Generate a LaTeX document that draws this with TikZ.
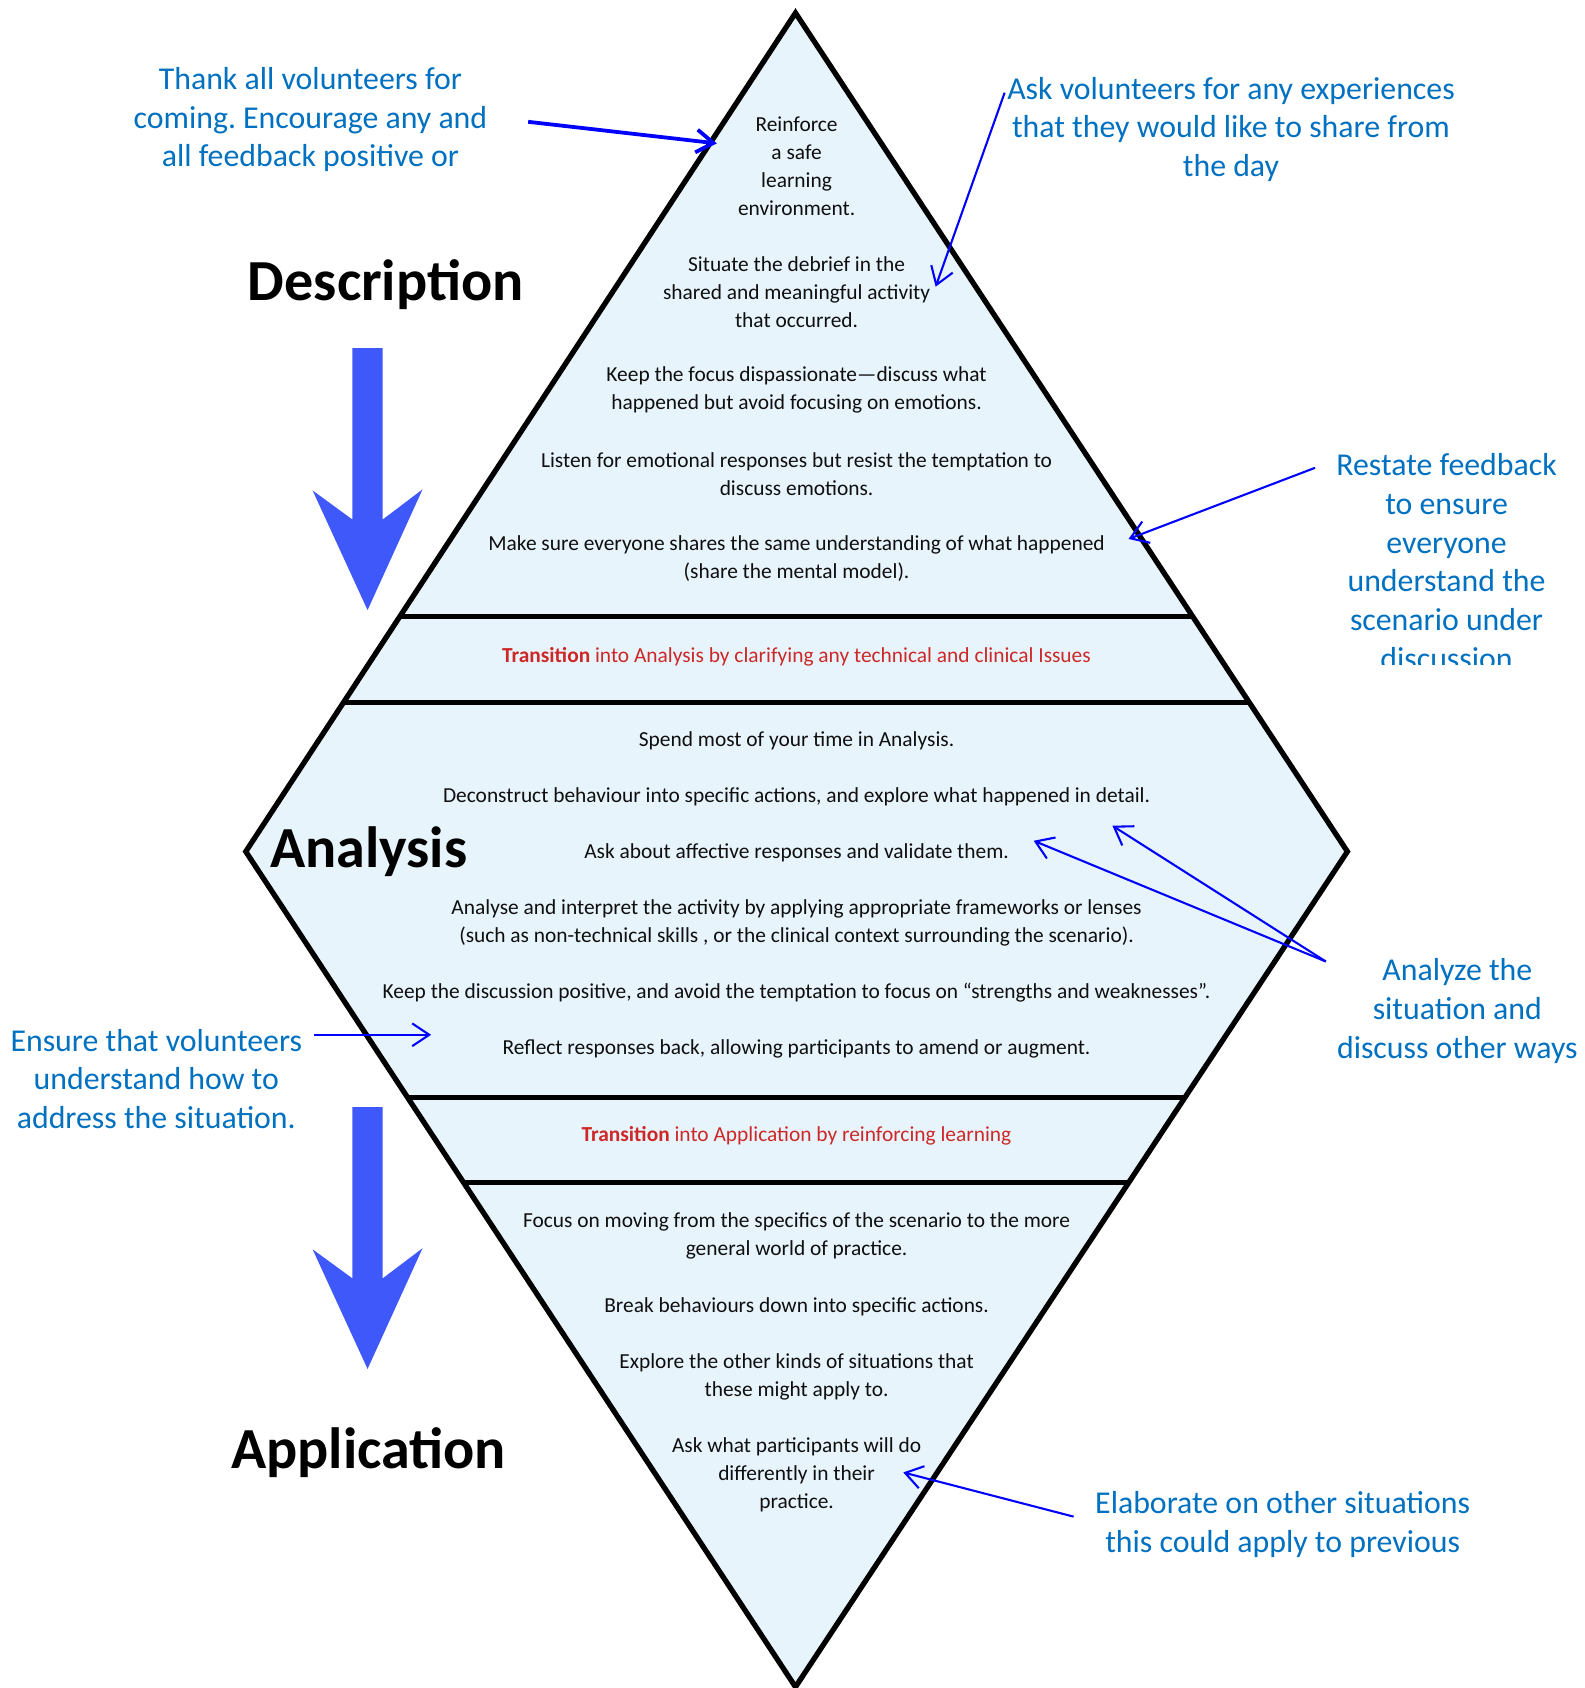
\documentclass[tikz,border=0pt]{standalone}
\usepackage{fontspec}
\setmainfont{Carlito}
\frenchspacing
\usetikzlibrary{arrows.meta,calc}
\definecolor{fillblue}{RGB}{232,244,252}
\definecolor{noteblue}{RGB}{0,112,192}
\definecolor{bigblue}{RGB}{62,88,250}
\definecolor{redtext}{RGB}{205,40,40}
\definecolor{txt}{RGB}{15,15,15}
\tikzset{
  stage/.style={align=center,text=txt,inner sep=0pt,font=\fontsize{11.3}{14.8}\selectfont},
  note/.style={align=center,text=noteblue,inner sep=0pt,font=\fontsize{16.8}{20.5}\selectfont},
  phase/.style={inner sep=0pt,font=\fontsize{30.7}{36}\selectfont\bfseries},
  pointer/.style={draw=blue,line width=1.1pt,-{Straight Barb[length=9pt,width=12pt]}}
}
\begin{document}
\begin{tikzpicture}[x=0.02cm,y=-0.02cm]
\useasboundingbox (0,0) rectangle (1470,1566);
\coordinate (top) at (738,12);
\coordinate (left) at (228,790);
\coordinate (right) at (1250,790);
\coordinate (bottom) at (738,1565);
\filldraw[fill=fillblue,line width=2.8pt] (top) -- (right) -- (bottom) -- (left) -- cycle;
\foreach \t in {0.7198,0.8226} \draw[line width=2.8pt] ($(top)!\t!(left)$) -- ($(top)!\t!(right)$);
\foreach \t in {0.2942,0.3961} \draw[line width=2.8pt] ($(left)!\t!(bottom)$) -- ($(right)!\t!(bottom)$);
\foreach \dy in {0,704} \fill[bigblue] (327,323+\dy) -- (355,323+\dy) -- (355,482+\dy) -- (392,454+\dy) -- (341,566+\dy) -- (290,455+\dy) -- (327,482+\dy) -- cycle;

\node[phase] (desc) at (358,264) {Description};
\node[phase] (ana) at (342,790) {Analysis};
\node[phase] (app) at (342,1348) {Application};

\node[stage] (d1) at (739,154) {Reinforce\\a safe\\learning\\environment.};
\node[stage] (d2) at (739,271) {Situate the debrief in the\\shared and meaningful activity\\that occurred.};
\node[stage] (d3) at (739,362) {Keep the focus dispassionate—discuss what\\happened but avoid focusing on emotions.};
\node[stage] (d4) at (739,440) {Listen for emotional responses but resist the temptation to\\discuss emotions.};
\node[stage] (d5) at (739,518) {Make sure everyone shares the same understanding of what happened\\(share the mental model).};
\node[stage,text=redtext] (t1) at (739,609) {\textbf{Transition} into Analysis by clarifying any technical and clinical Issues};
\node[stage] (a1) at (739,687) {Spend most of your time in Analysis.};
\node[stage] (a2) at (739,739) {Deconstruct behaviour into specific actions, and explore what happened in detail.};
\node[stage] (a3) at (739,791) {Ask about affective responses and validate them.};
\node[stage] (a4) at (739,856) {Analyse and interpret the activity by applying appropriate frameworks or lenses\\(such as non-technical skills , or the clinical context surrounding the scenario).};
\node[stage] (a5) at (739,921) {Keep the discussion positive, and avoid the temptation to focus on “strengths and weaknesses”.};
\node[stage] (a6) at (739,973) {Reflect responses back, allowing participants to amend or augment.};
\node[stage,text=redtext] (t2) at (739,1054) {\textbf{Transition} into Application by reinforcing learning};
\node[stage] (p1) at (739,1147) {Focus on moving from the specifics of the scenario to the more\\general world of practice.};
\node[stage] (p2) at (739,1212) {Break behaviours down into specific actions.};
\node[stage] (p3) at (739,1277) {Explore the other kinds of situations that\\these might apply to.};
\node[stage] (p4) at (739,1368) {Ask what participants will do\\differently in their\\practice.};

\node[note] (thank) at (288,111) {Thank all volunteers for\\coming. Encourage any and\\all feedback positive or};
\node[note] (ask) at (1142,120) {Ask volunteers for any experiences\\that they would like to share from\\the day};
\begin{scope}
\clip (1200,380) rectangle (1470,616);
\node[note] (restate) at (1342,521) {Restate feedback\\to ensure\\everyone\\understand the\\scenario under\\discussion};
\end{scope}
\node[note] (ensure) at (145,1001) {Ensure that volunteers\\understand how to\\address the situation.};
\node[note] (analyze) at (1352,938) {Analyze the\\situation and\\discuss other ways};
\node[note] (elaborate) at (1190,1414) {Elaborate on other situations\\this could apply to previous};

\coordinate (thankfoot) at (490,113);
\coordinate (thanktip) at (665,133);
\coordinate (askfoot) at (932,86);
\coordinate (asktip) at (868,266);
\coordinate (restatefoot) at (1220,434);
\coordinate (restatetip) at (1047,500);
\coordinate (ensurefoot) at (291,960);
\coordinate (ensuretip) at (400,960);
\coordinate (analyzefoot) at (1230,892);
\coordinate (analyzetip) at (959,780);
\coordinate (analyzetipb) at (1032,766);
\coordinate (elaboratefoot) at (996,1407);
\coordinate (elaboratetip) at (838,1366);
\draw[pointer,line width=2pt] (thankfoot) -- (thanktip);
\draw[pointer] (askfoot) -- (asktip);
\draw[pointer] (restatefoot) -- (restatetip);
\draw[pointer] (ensurefoot) -- (ensuretip);
\draw[pointer] (analyzefoot) -- (analyzetip);
\draw[pointer] (analyzefoot) -- (analyzetipb);
\draw[pointer] (elaboratefoot) -- (elaboratetip);
\end{tikzpicture}
\end{document}
